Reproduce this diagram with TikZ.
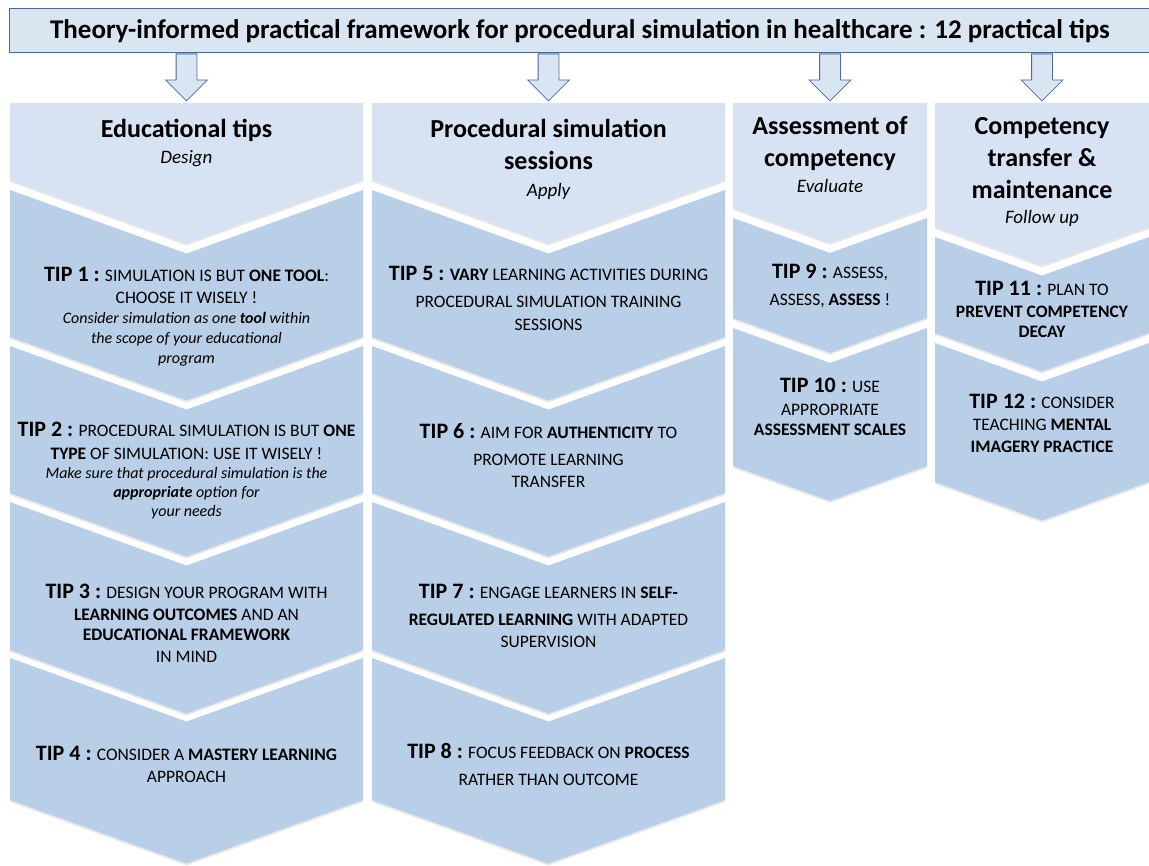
\documentclass[tikz,border=0pt]{standalone}
\usepackage{fontspec}
\setmainfont{Carlito}
\usetikzlibrary{shapes.arrows,shadows,positioning}
\definecolor{bannerfill}{RGB}{218,229,242}
\definecolor{bannerline}{RGB}{74,106,154}
\definecolor{headfill}{RGB}{215,227,242}
\definecolor{tipfill}{RGB}{185,206,231}
\tikzset{
  banner/.style={draw=bannerline, fill=bannerfill, line width=1pt, minimum width=1142, minimum height=44, inner sep=0pt, font=\fontsize{27}{30}\selectfont\bfseries},
  downarrow/.style={single arrow, draw=bannerline, fill=bannerfill, line width=0.8pt, rotate=-90, minimum height=47, inner xsep=0pt, inner ysep=10pt, single arrow head extend=10.5, single arrow head indent=0pt},
  headbox/.style={fill=headfill, drop shadow={opacity=0.18, shadow xshift=0pt, shadow yshift=-2pt}},
  tipbox/.style={fill=tipfill, drop shadow={opacity=0.18, shadow xshift=0pt, shadow yshift=-2pt}},
  headtext/.style={align=center, inner sep=0pt, font=\fontsize{26}{32}\selectfont\bfseries},
  tiptext/.style={align=center, inner sep=0pt, font=\fontsize{17.5}{20}\selectfont}
}
\newcommand{\tipno}[1]{{\fontsize{22}{20}\selectfont\bfseries #1}}
\newcommand{\tipnote}{\fontsize{16}{19}\selectfont\itshape}
\newcommand{\phase}{\fontsize{19}{20}\selectfont\mdseries\itshape}
% chevron with flat top (column heading)
\newcommand{\headchev}[4]{\fill[headbox] (#1,#3) -- (#2,#3) -- (#2,#4) -- ({(#1+#2)/2},{#4+0.36*(#2-#1)/2}) -- (#1,#4) -- cycle;}
% chevron with notched top (one tip)
\newcommand{\tipchev}[4]{\fill[tipbox] (#1,#3) -- ({(#1+#2)/2},{#3+0.36*(#2-#1)/2}) -- (#2,#3) -- (#2,#4) -- ({(#1+#2)/2},{#4+0.36*(#2-#1)/2}) -- (#1,#4) -- cycle;}

\begin{document}
\begin{tikzpicture}[x=1pt,y=-1pt]
	\useasboundingbox (0,0) rectangle (1149,866);

	% columns of chevrons
	\headchev{10}{363}{103}{180}
	\headchev{372}{725}{103}{180}
	\headchev{733}{927}{103}{208}
	\headchev{935}{1149}{103}{227}
	\foreach \ya/\yb in {190/337,346/493,502/650,658/800} {
		\tipchev{10}{363}{\ya}{\yb}
		\tipchev{372}{725}{\ya}{\yb}
	}
	\tipchev{733}{927}{218}{318}
	\tipchev{733}{927}{328}{466}
	\tipchev{935}{1149}{237}{333}
	\tipchev{935}{1149}{343}{482}

	\node[banner] (title) at (580,31) {Theory-informed practical framework for procedural simulation in healthcare : 12 practical tips};

	% headings
	\node[headtext] (h1) at (186.5,142.5) {Educational tips\\[-6pt] {\phase Design}};
	\node[headtext] (h2) at (548.5,159) {Procedural simulation\\ sessions\\[-5pt] {\phase Apply}};
	\node[headtext] (h3) at (830,155) {Assessment of\\ competency\\[-6pt] {\phase Evaluate}};
	\node[headtext] (h4) at (1042,172) {Competency\\ transfer \&\\ maintenance\\[-7pt] {\phase Follow up}};

	\node[downarrow, anchor=tail] (a1) at (title.south -| h1) {};
	\node[downarrow, anchor=tail] (a2) at (title.south -| h2) {};
	\node[downarrow, anchor=tail] (a3) at (title.south -| h3) {};
	\node[downarrow, anchor=tail] (a4) at (title.south -| h4) {};

	% tips
	\node[tiptext] (t1) at (186.5,317) {\tipno{TIP 1 :} SIMULATION IS BUT \textbf{ONE TOOL}:\\[2pt] CHOOSE IT WISELY !\\ {\tipnote Consider simulation as one \textbf{tool} within}\\ {\tipnote the scope of your educational}\\ {\tipnote program}};
	\node[tiptext] (t2) at (186.5,470.5) {\tipno{TIP 2 :} PROCEDURAL SIMULATION IS BUT \textbf{ONE}\\[3pt] \textbf{TYPE} OF SIMULATION: USE IT WISELY !\\[-1pt] {\tipnote Make sure that procedural simulation is the}\\[-1pt] {\tipnote \textbf{appropriate} option for}\\[-1pt] {\tipnote your needs}};
	\node[tiptext] (t3) at (186.5,623) {\tipno{TIP 3 :} DESIGN YOUR PROGRAM WITH\\[2pt] \textbf{LEARNING OUTCOMES} AND AN\\ \textbf{EDUCATIONAL FRAMEWORK}\\[2pt] IN MIND};
	\node[tiptext] (t4) at (186.5,764) {\tipno{TIP 4 :} CONSIDER A \textbf{MASTERY LEARNING}\\[2pt] APPROACH};

	\node[tiptext] (t5) at (548.5,298) {\tipno{TIP 5 :} \textbf{VARY} LEARNING ACTIVITIES DURING\\[7pt] PROCEDURAL SIMULATION TRAINING\\[3pt] SESSIONS};
	\node[tiptext] (t6) at (548.5,455.5) {\tipno{TIP 6 :} AIM FOR \textbf{AUTHENTICITY} TO\\[7pt] PROMOTE LEARNING\\[2pt] TRANSFER};
	\node[tiptext] (t7) at (548.5,615.5) {\tipno{TIP 7 :} ENGAGE LEARNERS IN \textbf{SELF-}\\[7pt] \textbf{REGULATED LEARNING} WITH ADAPTED\\[2pt] SUPERVISION};
	\node[tiptext] (t8) at (548.5,764.5) {\tipno{TIP 8 :} FOCUS FEEDBACK ON \textbf{PROCESS}\\[7pt] RATHER THAN OUTCOME};

	\node[tiptext] (t9) at (830,285.5) {\tipno{TIP 9 :} ASSESS,\\[7pt] ASSESS, \textbf{ASSESS} !};
	\node[tiptext] (t10) at (830,406.5) {\tipno{TIP 10 :} USE\\[3pt] APPROPRIATE\\ \textbf{ASSESSMENT SCALES}};

	\node[tiptext] (t11) at (1042,309) {\tipno{TIP 11 :} PLAN TO\\[2pt] \textbf{PREVENT COMPETENCY}\\ \textbf{DECAY}};
	\node[tiptext] (t12) at (1042,423) {\tipno{TIP 12 :} CONSIDER\\[2pt] TEACHING \textbf{MENTAL}\\[2pt] \textbf{IMAGERY PRACTICE}};
\end{tikzpicture}
\end{document}
